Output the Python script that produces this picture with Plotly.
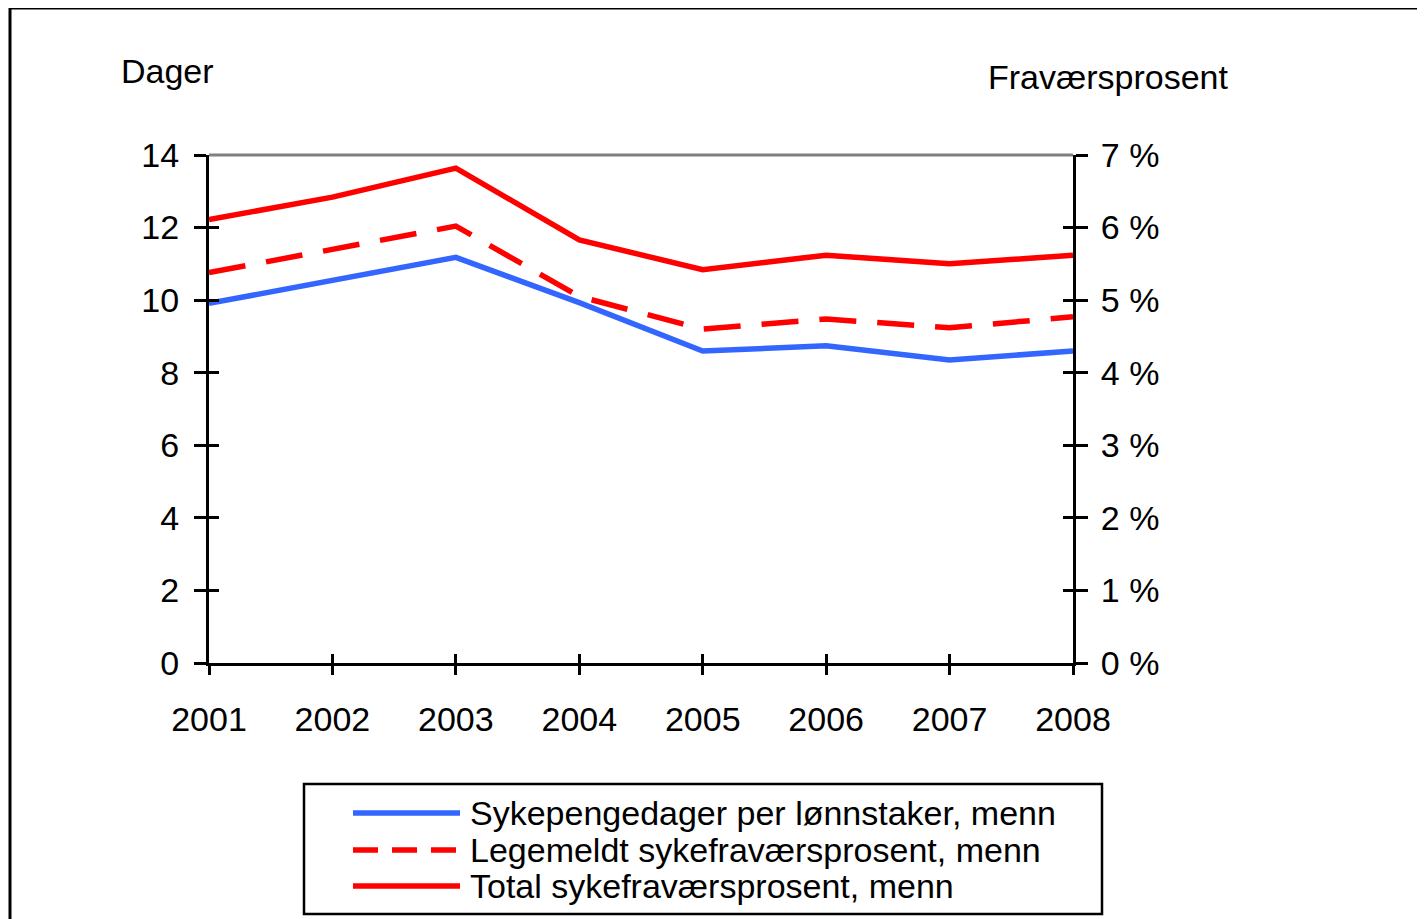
import plotly.graph_objects as go

years = [2001, 2002, 2003, 2004, 2005, 2006, 2007, 2008]
sykepengedager = [9.91, 10.53, 11.18, 9.93, 8.60, 8.74, 8.35, 8.60]
legemeldt_pct = [5.38, 5.70, 6.02, 5.05, 4.60, 4.74, 4.62, 4.77]
total_pct = [6.11, 6.42, 6.82, 5.83, 5.42, 5.62, 5.50, 5.62]

left_ticks = [0, 2, 4, 6, 8, 10, 12, 14]
right_ticks = [0, 1, 2, 3, 4, 5, 6, 7]
series_names = ["Sykepengedager per lønnstaker, menn",
                "Legemeldt sykefraværsprosent, menn",
                "Total sykefraværsprosent, menn"]

BLUE = "#3366FF"
RED = "#FF0000"
FONT = "Liberation Sans"
FS = 34
LW = 5.5

fig = go.Figure()
fig.add_trace(go.Scatter(x=years, y=sykepengedager, mode="lines", name=series_names[0],
                         line=dict(color=BLUE, width=LW), yaxis="y"))
fig.add_trace(go.Scatter(x=years, y=legemeldt_pct, mode="lines", name=series_names[1],
                         line=dict(color=RED, width=LW, dash="37px,21px"), yaxis="y2"))
fig.add_trace(go.Scatter(x=years, y=total_pct, mode="lines", name=series_names[2],
                         line=dict(color=RED, width=LW), yaxis="y2"))

OFF = 8  # page body margin
W, H = 1425 - OFF, 919 - OFF
L, R, T, B = 209 - OFF, 1425 - 1073, 155 - OFF, 919 - 663
pw, ph = W - L - R, H - T - B

def px(x):
    return (x - OFF - L) / pw

def py(y):
    return (H - B - (y - OFF)) / ph

axis_common = dict(showgrid=False, zeroline=False, linecolor="black", linewidth=3,
                   tickcolor="black", tickwidth=3, tickfont=dict(family=FONT, size=FS, color="black"))

fig.update_layout(
    width=W, height=H,
    margin=dict(l=L, r=R, t=T, b=B),
    paper_bgcolor="white", plot_bgcolor="white",
    showlegend=False,
    font=dict(family=FONT, color="black"),
    xaxis=dict(range=[2001, 2008], tickvals=years, ticktext=[str(y) for y in years],
               showline=True, ticks="outside", ticklen=9, ticklabelstandoff=15, **axis_common),
    xaxis2=dict(range=[2001, 2008], tickvals=years, overlaying="x", side="bottom",
                showline=False, ticks="inside", ticklen=9, showticklabels=False,
                showgrid=False, zeroline=False, tickcolor="black", tickwidth=3),
    yaxis=dict(range=[0, 14], tickvals=left_ticks, showline=True, ticks="outside", ticklen=12,
               ticklabelstandoff=8, **axis_common),
    yaxis2=dict(range=[0, 7], tickvals=right_ticks, ticktext=[f"{v} %" for v in right_ticks],
                overlaying="y", side="right", showline=True, ticks="outside", ticklen=12,
                ticklabelstandoff=6, **axis_common),
    yaxis3=dict(range=[0, 14], tickvals=left_ticks, overlaying="y", side="left",
                showline=False, ticks="inside", ticklen=10, showticklabels=False,
                showgrid=False, zeroline=False, tickcolor="black", tickwidth=3),
    yaxis4=dict(range=[0, 7], tickvals=right_ticks, overlaying="y", side="right",
                showline=False, ticks="inside", ticklen=10, showticklabels=False,
                showgrid=False, zeroline=False, tickcolor="black", tickwidth=3),
)

# dummy traces to activate overlay axes for inside ticks
fig.add_trace(go.Scatter(x=[None], y=[None], xaxis="x2", yaxis="y3", showlegend=False, hoverinfo="skip"))
fig.add_trace(go.Scatter(x=[None], y=[None], xaxis="x", yaxis="y4", showlegend=False, hoverinfo="skip"))

shapes = []
shapes.append(dict(type="line", xref="paper", yref="paper", x0=0, x1=1, y0=1, y1=1,
                   line=dict(color="#808080", width=3), layer="below"))
shapes.append(dict(type="rect", xref="paper", yref="paper", x0=px(10), x1=px(1440), y0=py(8), y1=py(940),
                   line=dict(color="black", width=3)))
shapes.append(dict(type="rect", xref="paper", yref="paper", x0=px(304), x1=px(1102), y0=py(784), y1=py(914),
                   line=dict(color="black", width=2.5), fillcolor="white"))

annotations = [
    dict(text="Dager", xref="paper", yref="paper", x=px(119), y=py(71), xanchor="left", yanchor="middle",
         showarrow=False, font=dict(family=FONT, size=FS, color="black")),
    dict(text="Fraværsprosent", xref="paper", yref="paper", x=px(986), y=py(77), xanchor="left",
         yanchor="middle", showarrow=False, font=dict(family=FONT, size=FS, color="black")),
]

legend_rows = [813, 850, 886]
legend_styles = [(BLUE, None), (RED, "25px,14px"), (RED, None)]
for yy, name, (col, dash) in zip(legend_rows, series_names, legend_styles):
    ln = dict(color=col, width=LW)
    if dash:
        ln["dash"] = dash
    shapes.append(dict(type="line", xref="paper", yref="paper", x0=px(353), x1=px(460), y0=py(yy), y1=py(yy),
                       line=ln))
    annotations.append(dict(text=name, xref="paper", yref="paper", x=px(468), y=py(yy), xanchor="left",
                            yanchor="middle", showarrow=False,
                            font=dict(family=FONT, size=FS, color="black")))

fig.update_layout(shapes=shapes, annotations=annotations)
fig.write_html("out.html")
